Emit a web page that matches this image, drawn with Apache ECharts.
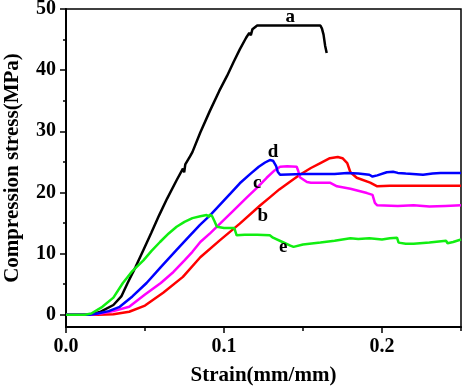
<!DOCTYPE html>
<html>
<head>
<meta charset="utf-8">
<script src="https://cdn.jsdelivr.net/npm/echarts@6/dist/echarts.min.js"></script>
<style>
  html, body { margin: 0; padding: 0; background: #fff; }
  #chart { width: 464px; height: 386px; }
</style>
</head>
<body>
<div id="chart"></div>
<script>
// 曲线数据 [strain, stress]
var curveA = [[0,0],[0.01,0],[0.016,0.05],[0.022,0.5],[0.030,1.6],[0.035,3.0],[0.039,5.2],[0.044,7.8],[0.049,10.6],[0.054,13.4],[0.059,16.3],[0.064,19.0],[0.070,22.0],[0.074,23.9],[0.0748,23.3],[0.0755,24.6],[0.0785,25.9],[0.0795,25.6],[0.080,26.6],[0.085,29.8],[0.091,33.3],[0.097,36.6],[0.102,39.1],[0.106,41.3],[0.110,43.4],[0.114,45.3],[0.116,46.1],[0.117,45.7],[0.118,46.7],[0.121,47.3],[0.140,47.3],[0.161,47.3],[0.162,46.8],[0.163,45.8],[0.164,44.0],[0.165,42.8]];
var curveB = [[0,0],[0.020,0],[0.030,0.1],[0.040,0.5],[0.050,1.5],[0.0615,3.6],[0.074,6.2],[0.085,9.4],[0.0975,12.2],[0.110,14.9],[0.123,17.9],[0.129,19.2],[0.135,20.5],[0.142,21.8],[0.148,22.9],[0.155,24.0],[0.161,24.8],[0.167,25.6],[0.172,25.8],[0.175,25.6],[0.178,24.8],[0.180,23.3],[0.184,22.4],[0.1925,21.6],[0.197,21.0],[0.205,21.1],[0.22,21.1],[0.235,21.1],[0.25,21.1]];
var curveC = [[0,0],[0.015,0],[0.022,0.2],[0.030,0.6],[0.040,1.3],[0.050,3.3],[0.060,5.2],[0.068,7.0],[0.075,8.9],[0.080,10.3],[0.085,11.9],[0.0915,13.4],[0.0975,14.9],[0.105,16.8],[0.1145,19.2],[0.121,20.8],[0.127,22.4],[0.132,23.6],[0.1355,24.2],[0.140,24.3],[0.146,24.2],[0.147,23.5],[0.148,22.5],[0.1525,21.7],[0.155,21.6],[0.167,21.6],[0.1715,21.0],[0.180,20.6],[0.1905,19.9],[0.194,19.6],[0.1955,18.3],[0.197,17.9],[0.21,17.8],[0.22,17.9],[0.23,17.7],[0.24,17.8],[0.25,17.9]];
var curveD = [[0,0],[0.015,0],[0.020,0.2],[0.027,0.6],[0.034,1.3],[0.042,3.0],[0.051,5.2],[0.060,7.8],[0.070,10.6],[0.0775,12.7],[0.0848,14.7],[0.091,16.2],[0.0975,18.0],[0.104,19.8],[0.110,21.5],[0.1165,23.0],[0.122,24.2],[0.126,24.9],[0.129,25.3],[0.131,25.2],[0.133,24.3],[0.134,23.4],[0.1355,22.9],[0.150,23.0],[0.17,23.0],[0.178,23.2],[0.185,23.1],[0.192,22.9],[0.194,22.6],[0.197,22.8],[0.203,23.3],[0.207,23.4],[0.210,23.2],[0.215,23.1],[0.216,22.9],[0.226,22.9],[0.232,23.1],[0.237,23.2],[0.25,23.2]];
var curveE = [[0,0],[0.012,0],[0.016,0.2],[0.023,1.3],[0.030,2.8],[0.036,5.2],[0.0415,7.0],[0.049,8.9],[0.054,10.4],[0.0595,11.9],[0.065,13.3],[0.070,14.4],[0.075,15.2],[0.080,15.8],[0.085,16.1],[0.089,16.3],[0.0905,16.0],[0.091,16.4],[0.0925,16.1],[0.094,15.3],[0.0955,14.4],[0.1,14.2],[0.1065,14.2],[0.108,13.0],[0.113,13.1],[0.121,13.1],[0.129,13.0],[0.131,12.6],[0.137,11.9],[0.142,11.3],[0.144,11.1],[0.150,11.5],[0.161,11.8],[0.170,12.1],[0.180,12.5],[0.185,12.4],[0.192,12.5],[0.200,12.3],[0.205,12.5],[0.2095,12.6],[0.2105,11.8],[0.215,11.6],[0.220,11.6],[0.230,11.8],[0.2405,12.1],[0.2415,11.7],[0.245,11.9],[0.25,12.3]];

// 刻度
var xTicks = [0, 0.1, 0.2];
var xMinorTicks = [0.05, 0.15, 0.25];
var yTicks = [0, 10, 20, 30, 40, 50];
var yMinorTicks = [5, 15, 25, 35, 45];

var FONT = 'Liberation Serif';

function curve(name, data, color, labelAt) {
    return {
        name: name,
        type: 'line',
        data: data,
        showSymbol: false,
        lineStyle: { color: color, width: 2.5 },
        markPoint: {
            symbol: 'circle',
            symbolSize: 0,
            label: {
                show: true,
                formatter: name,
                color: '#000',
                fontFamily: FONT,
                fontWeight: 'bold',
                fontSize: 19
            },
            data: [{ coord: labelAt }]
        }
    };
}

var option = {
    animation: false,
    backgroundColor: '#fff',
    grid: {
        left: 66, right: 3, top: 9, bottom: 59,
        containLabel: false,
        outerBoundsMode: 'none',
        show: true, borderColor: '#000', borderWidth: 1.5
    },
    xAxis: [
        {
            type: 'value', min: 0, max: 0.25,
            name: 'Strain(mm/mm)', nameLocation: 'middle', nameGap: 38,
            nameTextStyle: { fontFamily: FONT, fontWeight: 'bold', fontSize: 21, color: '#000' },
            axisLine: { onZero: false, lineStyle: { color: '#000', width: 2 } },
            axisTick: { customValues: xTicks, length: 6, lineStyle: { color: '#000', width: 1.5 } },
            axisLabel: {
                customValues: xTicks, margin: 10,
                formatter: function (v) { return v.toFixed(1); },
                fontFamily: FONT, fontWeight: 'bold', fontSize: 20, color: '#000'
            },
            splitLine: { show: false }
        },
        {
            type: 'value', min: 0, max: 0.25, position: 'bottom',
            axisLine: { show: false, onZero: false },
            axisTick: { customValues: xMinorTicks, length: 4, lineStyle: { color: '#000', width: 1.5 } },
            axisLabel: { show: false },
            splitLine: { show: false }
        }
    ],
    yAxis: [
        {
            type: 'value', min: -2, max: 50,
            name: 'Compression stress(MPa)', nameLocation: 'middle', nameGap: 43, nameRotate: 90,
            nameTextStyle: { fontFamily: FONT, fontWeight: 'bold', fontSize: 21, color: '#000' },
            axisLine: { onZero: false, lineStyle: { color: '#000', width: 2 } },
            axisTick: { customValues: yTicks, length: 6, lineStyle: { color: '#000', width: 1.5 } },
            axisLabel: {
                customValues: yTicks, margin: 10,
                fontFamily: FONT, fontWeight: 'bold', fontSize: 20, color: '#000'
            },
            splitLine: { show: false }
        },
        {
            type: 'value', min: -2, max: 50, position: 'left',
            axisLine: { show: false, onZero: false },
            axisTick: { customValues: yMinorTicks, length: 3, lineStyle: { color: '#000', width: 1.5 } },
            axisLabel: { show: false },
            splitLine: { show: false }
        }
    ],
    series: [
        curve('a', curveA, '#000000', [0.142, 48.6]),
        curve('b', curveB, '#ff0000', [0.1245, 16.2]),
        curve('c', curveC, '#ff00ff', [0.121, 21.5]),
        curve('d', curveD, '#0000ff', [0.131, 26.6]),
        curve('e', curveE, '#11ee11', [0.1375, 11.0])
    ]
};

var chart = echarts.init(document.getElementById('chart'));
chart.setOption(option);
</script>
</body>
</html>
